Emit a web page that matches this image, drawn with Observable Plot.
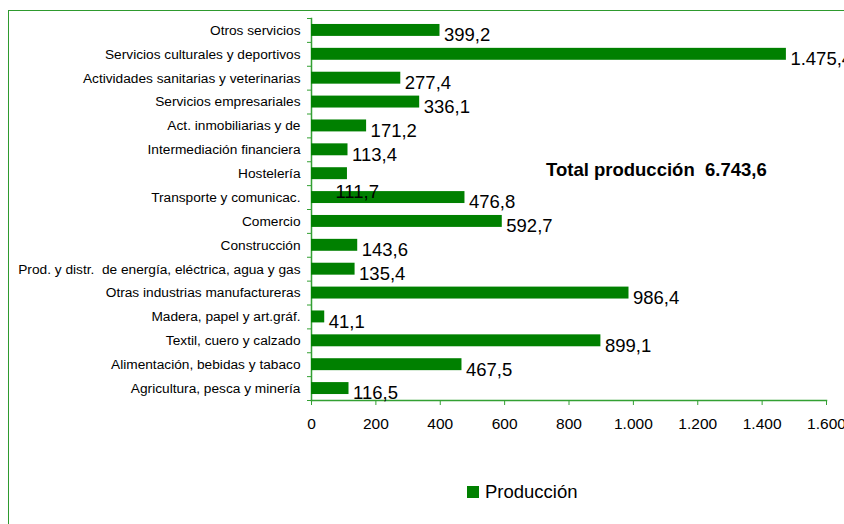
<!DOCTYPE html>
<html>
<head>
<meta charset="utf-8">
<script src="https://cdn.jsdelivr.net/npm/d3@7"></script>
<script src="https://cdn.jsdelivr.net/npm/@observablehq/plot@0.6"></script>
<style>
  html, body { margin: 0; padding: 0; background: #fff; }
  #wrap { position: relative; width: 844px; height: 524px; overflow: hidden; font-family: "Liberation Sans", Arial, sans-serif; }
  #border { position: absolute; left: 8px; top: 10px; width: 1000px; height: 1000px; border-left: 1.5px solid #2e9a2e; border-top: 1.5px solid #2e9a2e; }
  #chart { position: absolute; left: 0; top: 0; }
  #total { position: absolute; left: 546px; top: 159px; font-size: 18.5px; font-weight: bold; color: #000; white-space: pre; }
  #legend { position: absolute; left: 467px; top: 481px; font-size: 18.5px; color: #000; display: flex; align-items: center; }
  #legend .sw { width: 12px; height: 12px; background: #008000; margin-right: 6px; }
</style>
</head>
<body>
<div id="wrap">
  <div id="border"></div>
  <div id="chart"></div>
  <div id="total"></div>
  <div id="legend"><span class="sw"></span><span id="legname"></span></div>
</div>
<script>
const categories = [
  "Otros servicios",
  "Servicios culturales y deportivos",
  "Actividades sanitarias y veterinarias",
  "Servicios empresariales",
  "Act. inmobiliarias y de",
  "Intermediación financiera",
  "Hostelería",
  "Transporte y comunicac.",
  "Comercio",
  "Construcción",
  "Prod. y distr.  de energía, eléctrica, agua y gas",
  "Otras industrias manufactureras",
  "Madera, papel y art.gráf.",
  "Textil, cuero y calzado",
  "Alimentación, bebidas y tabaco",
  "Agricultura, pesca y minería"
];
const values = [399.2, 1475.4, 277.4, 336.1, 171.2, 113.4, 111.7, 476.8, 592.7, 143.6, 135.4, 986.4, 41.1, 899.1, 467.5, 116.5];
const xTicks = [0, 200, 400, 600, 800, 1000, 1200, 1400, 1600];
const seriesName = "Producción";
const totalLabel = "Total producción  6.743,6";
const displacedLabel = "Hostelería";

const esFmt = d3.formatLocale({decimal: ",", thousands: ".", grouping: [3]});
const fmtTick = esFmt.format(",d");
const fmtVal = esFmt.format(",.1f");

const data = categories.map((c, i) => ({cat: c, value: values[i]}));

const W = 844, H = 524, mT = 18, mB = 124, mL = 311, mR = 18;
const step = (H - mT - mB) / categories.length;
const inset = step * 0.25;
const axisGreen = "#33a033";
const barGreen = "#008000";

const chart = Plot.plot({
  width: W, height: H,
  marginTop: mT, marginBottom: mB, marginLeft: mL, marginRight: mR,
  style: {fontFamily: "'Liberation Sans', Arial, sans-serif", background: "transparent", overflow: "visible"},
  x: {domain: [0, 1600]},
  y: {domain: categories, padding: 0, round: false},
  marks: [
    Plot.frame({anchor: "bottom", stroke: axisGreen, strokeWidth: 1.5}),
    Plot.frame({anchor: "left", stroke: axisGreen, strokeWidth: 1.5}),
    Plot.barX(data, {x: "value", y: "cat", fill: barGreen, insetTop: inset, insetBottom: inset}),
    Plot.axisX({ticks: xTicks, tickFormat: fmtTick, tickSize: 5, stroke: axisGreen, tickPadding: 12, fontSize: 15.5, fill: "#000", label: null}),
    Plot.axisY({tickSize: 0, tickPadding: 11, fontSize: 13.7, fill: "#000", label: null}),
    Plot.axisY({tickSize: 4, text: null, stroke: axisGreen, dy: -step / 2, label: null}),
    Plot.axisY({ticks: [categories[categories.length - 1]], tickSize: 4, text: null, stroke: axisGreen, dy: step / 2, label: null}),
    Plot.text(data.filter(d => d.cat !== displacedLabel), {x: "value", y: "cat", text: d => fmtVal(d.value), textAnchor: "start", dx: 4, dy: 5, fontSize: 18.5, fill: "#000"}),
    Plot.text(data.filter(d => d.cat === displacedLabel), {x: "value", y: "cat", text: d => fmtVal(d.value), textAnchor: "start", dx: -12, dy: 18, fontSize: 18.5, fill: "#000"})
  ]
});
document.getElementById("chart").appendChild(chart);
document.getElementById("total").textContent = totalLabel;
document.getElementById("legname").textContent = seriesName;
</script>
</body>
</html>
